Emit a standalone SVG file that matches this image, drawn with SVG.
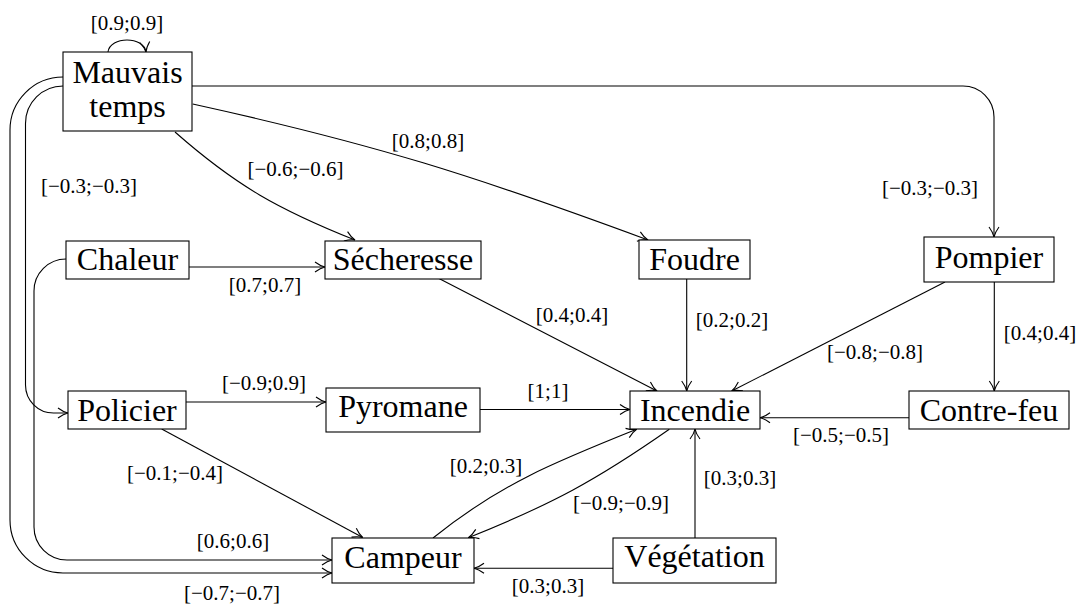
<svg xmlns="http://www.w3.org/2000/svg" width="1079" height="606" viewBox="0 0 1079 606">
<style>
.box{fill:#fff;stroke:#000;stroke-width:1.1}
.nt{font-family:"Liberation Serif","Times New Roman",serif;font-size:32px;fill:#000;text-anchor:middle}
.lb{font-family:"Liberation Serif","Times New Roman",serif;font-size:21px;fill:#000;text-anchor:middle}
.e{fill:none;stroke:#000;stroke-width:1.1;marker-end:url(#arr)}
</style>
<defs>
<marker id="arr" markerUnits="userSpaceOnUse" orient="auto" markerWidth="16" markerHeight="16" refX="0" refY="0" viewBox="-12 -8 16 16" overflow="visible">
<path d="M -10,-5 C -6,-2 -2,-0.4 0,0 C -2,0.4 -6,2 -10,5" fill="none" stroke="#000" stroke-width="1.1"/>
</marker>
</defs>
<rect width="1079" height="606" fill="#fff"/>
<g id="connectors">
<path class="e" d="M 108 52 C 110 36 144 36 146 52"/>
<path class="e" d="M 192 86 L 963 86 A 31 31 0 0 1 994 117 L 994 237"/>
<path class="e" d="M 175 132 C 236.6 186.2 278.9 209.6 355 240"/>
<path class="e" d="M 192.7 104 C 374.4 144 473.6 175.5 648 240"/>
<path class="e" d="M 189 267 L 325 267"/>
<path class="e" d="M 66 259 A 32 32 0 0 0 34 291 L 34 527 A 33 33 0 0 0 67 560 L 332 560"/>
<path class="e" d="M 63 86 A 37.5 37.5 0 0 0 25.5 123.5 L 25.5 385 A 28 28 0 0 0 53.5 413 L 68 413"/>
<path class="e" d="M 63 77 A 53 53 0 0 0 10 130 L 10 520 A 53 53 0 0 0 63 573 L 332 573"/>
<path class="e" d="M 186 402 L 326 402"/>
<path class="e" d="M 161.7 429 L 362.7 537.5"/>
<path class="e" d="M 438 278 L 657 391"/>
<path class="e" d="M 480 409.5 L 630 409.5"/>
<path class="e" d="M 686.7 279 L 686.7 391"/>
<path class="e" d="M 945 282 L 731.7 391"/>
<path class="e" d="M 994.3 282 L 994.3 391"/>
<path class="e" d="M 909 417.7 L 760 417.7"/>
<path class="e" d="M 695 538 L 695 429"/>
<path class="e" d="M 613 568.3 L 474 568.3"/>
<path class="e" d="M 433 538 C 500 484 555 462 636.7 429.3"/>
<path class="e" d="M 669.3 429.3 C 596.1 480.5 551.3 504.5 468.3 537.7"/>
</g>
<g id="edge-labels">
<text class="lb" x="127" y="30">[0.9;0.9]</text>
<text class="lb" x="930" y="195">[−0.3;−0.3]</text>
<text class="lb" x="295.5" y="176">[−0.6;−0.6]</text>
<text class="lb" x="428" y="148">[0.8;0.8]</text>
<text class="lb" x="89" y="193">[−0.3;−0.3]</text>
<text class="lb" x="265" y="292">[0.7;0.7]</text>
<text class="lb" x="264" y="390">[−0.9;0.9]</text>
<text class="lb" x="572" y="322">[0.4;0.4]</text>
<text class="lb" x="548" y="398">[1;1]</text>
<text class="lb" x="732" y="327">[0.2;0.2]</text>
<text class="lb" x="875" y="359">[−0.8;−0.8]</text>
<text class="lb" x="1040" y="340">[0.4;0.4]</text>
<text class="lb" x="841" y="442">[−0.5;−0.5]</text>
<text class="lb" x="175" y="480">[−0.1;−0.4]</text>
<text class="lb" x="233" y="548">[0.6;0.6]</text>
<text class="lb" x="232" y="600">[−0.7;−0.7]</text>
<text class="lb" x="486" y="473">[0.2;0.3]</text>
<text class="lb" x="621" y="510">[−0.9;−0.9]</text>
<text class="lb" x="740" y="485">[0.3;0.3]</text>
<text class="lb" x="548" y="593">[0.3;0.3]</text>
</g>
<g id="mauvais-temps"><rect class="box" x="63" y="52" width="129" height="79"/><text class="nt" x="127.5" y="83">Mauvais</text><text class="nt" x="127.5" y="117">temps</text></g>
<g id="chaleur"><rect class="box" x="66" y="241" width="123" height="38"/><text class="nt" x="127.5" y="270">Chaleur</text></g>
<g id="secheresse"><rect class="box" x="325" y="241" width="156" height="38"/><text class="nt" x="403" y="270">Sécheresse</text></g>
<g id="foudre"><rect class="box" x="639" y="240" width="111" height="39"/><text class="nt" x="694.5" y="270">Foudre</text></g>
<g id="pompier"><rect class="box" x="924" y="237" width="130" height="45"/><text class="nt" x="989" y="268">Pompier</text></g>
<g id="policier"><rect class="box" x="68" y="391" width="118" height="38"/><text class="nt" x="127" y="421">Policier</text></g>
<g id="pyromane"><rect class="box" x="326" y="388" width="154" height="44"/><text class="nt" x="403" y="417">Pyromane</text></g>
<g id="incendie"><rect class="box" x="630" y="391" width="130" height="38"/><text class="nt" x="695" y="421">Incendie</text></g>
<g id="contre-feu"><rect class="box" x="909" y="391" width="160" height="38"/><text class="nt" x="989" y="421">Contre-feu</text></g>
<g id="campeur"><rect class="box" x="332" y="538" width="142" height="45"/><text class="nt" x="403" y="568">Campeur</text></g>
<g id="vegetation"><rect class="box" x="613" y="538" width="163" height="45"/><text class="nt" x="694.5" y="567">Végétation</text></g>
</svg>
